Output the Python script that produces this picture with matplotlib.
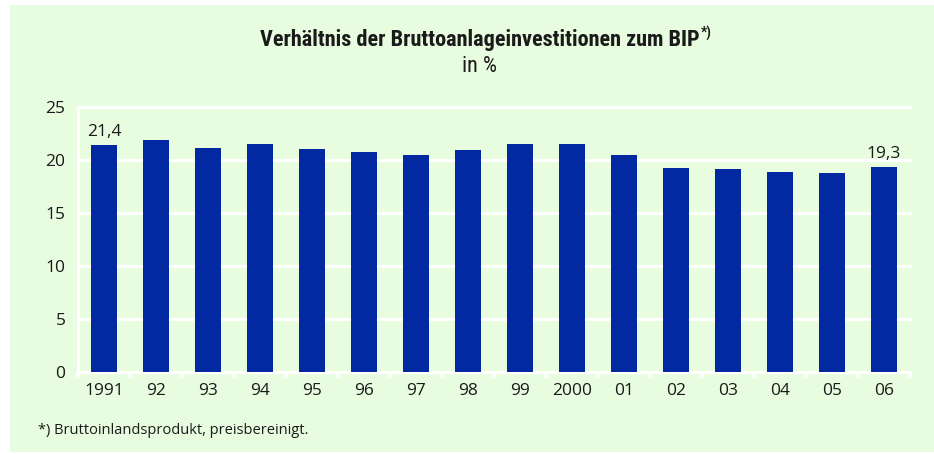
import matplotlib
matplotlib.use("Agg")
import matplotlib.pyplot as plt
from matplotlib.patches import Rectangle
import numpy as np

years = ["1991", "92", "93", "94", "95", "96", "97", "98", "99", "2000",
         "01", "02", "03", "04", "05", "06"]
values = [21.4, 21.9, 21.1, 21.5, 21.0, 20.75, 20.5, 20.9, 21.5, 21.5,
          20.5, 19.2, 19.15, 18.9, 18.8, 19.3]
labels = {0: "21,4", 15: "19,3"}
yticks = [0, 5, 10, 15, 20, 25]

BG = "#E8FCE0"
BAR = "#0229A1"
TXT = "#1a1a1a"
FONT = ["Open Sans", "DejaVu Sans"]
TFONT = ["Roboto Condensed", "Liberation Sans Narrow", "Open Sans", "DejaVu Sans"]

W, H = 934, 454
fig = plt.figure(figsize=(W / 100, H / 100), dpi=100)
fig.patch.set_facecolor("white")
fig.patches.append(Rectangle((10 / W, 1 - 452 / H), (W - 10) / W, (452 - 5) / H,
                             transform=fig.transFigure, facecolor=BG,
                             edgecolor="none", zorder=-5))

ax = fig.add_axes([78 / W, 1 - 372 / H, (910 - 78) / W, (372 - 107) / H])
ax.set_zorder(2)
ax.set_facecolor("none")
x = np.arange(len(years))
ax.bar(x, values, width=0.5, color=BAR, zorder=2)
ax.set_xlim(-0.5, len(years) - 0.5)
ax.set_ylim(0, 25)

for t in yticks:
    ax.axhline(t, color="white", lw=2.2, zorder=1, clip_on=False)
ax.plot([-0.5, -0.5], [0, 25], color="white", lw=2.2, zorder=1, clip_on=False)

for s in ax.spines.values():
    s.set_visible(False)

ax.set_yticks(yticks)
ax.set_yticklabels([str(t) for t in yticks], fontsize=12.5, color=TXT, family=FONT)
ax.tick_params(axis="y", length=0, pad=9)

ax.set_xticks(x)
ax.set_xticklabels(years, fontsize=12.5, color=TXT, family=FONT)
ax.tick_params(axis="x", length=0, pad=8)

# boundary tick marks below the baseline
for b in np.arange(-0.5, len(years), 1.0):
    ax.plot([b, b], [0, -0.55], color="white", lw=3, clip_on=False, zorder=1,
            solid_capstyle="butt")

for i, s in labels.items():
    ax.text(x[i], values[i] + 0.5, s, ha="center", va="bottom", fontsize=12.5,
            color=TXT, family=FONT)

t1 = fig.text(480 / W, 1 - 40 / H, "Verhältnis der Bruttoanlageinvestitionen zum BIP",
              ha="center", va="center", fontsize=16, fontweight="bold", color=TXT,
              family=TFONT)
fig.canvas.draw()
bb = t1.get_window_extent()
fig.text((bb.x1 + 1) / W, 1 - 33 / H, "*)", ha="left", va="center", fontsize=10,
         fontweight="bold", color=TXT, family=TFONT)
fig.text(480 / W, 1 - 66 / H, "in %", ha="center", va="center", fontsize=16,
         color=TXT, family=TFONT)
fig.text(38 / W, 1 - 430 / H, "*) Bruttoinlandsprodukt, preisbereinigt.",
         ha="left", va="center", fontsize=10.5, color=TXT, family=FONT)

fig.savefig("out.png", dpi=100, facecolor="white")
